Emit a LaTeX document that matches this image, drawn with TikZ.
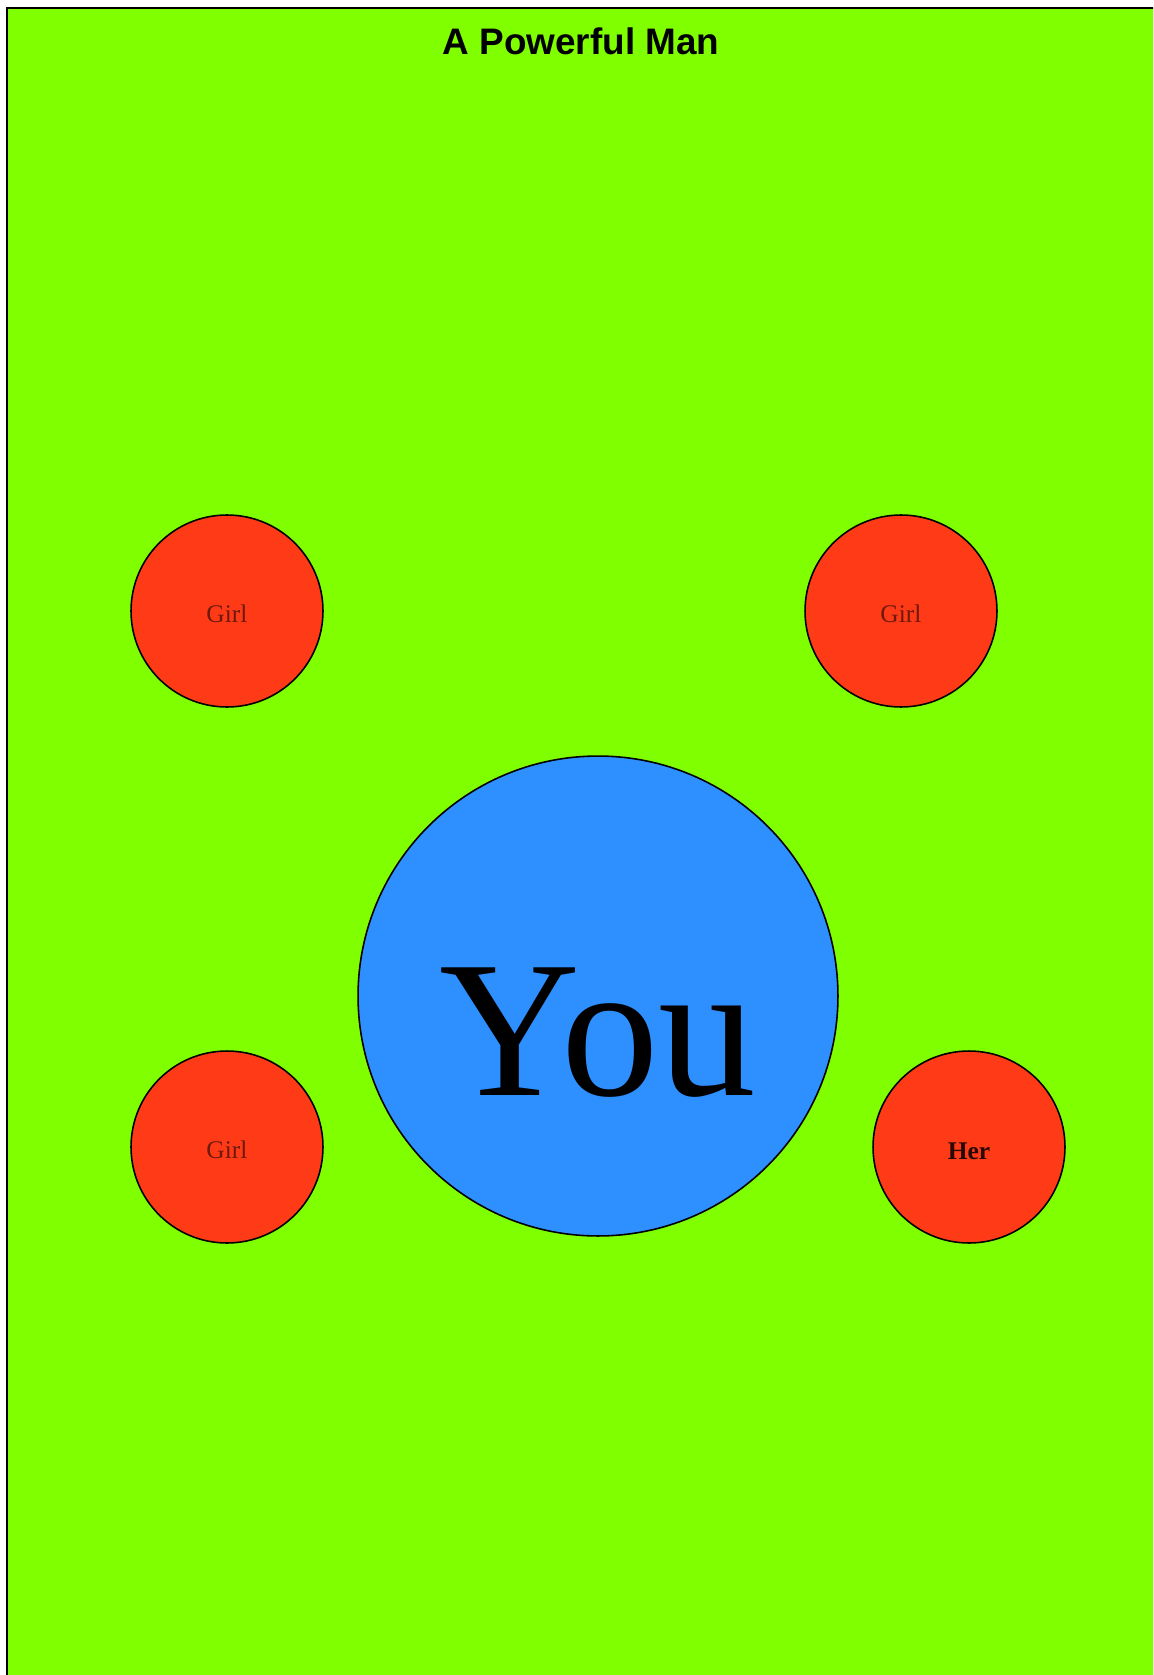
\documentclass[tikz,border=0pt]{standalone}
\usepackage{fontspec}
\setmainfont{Liberation Serif}
\newfontfamily\titlefont{Liberation Sans}

\definecolor{fieldgreen}{RGB}{128,255,0}
\definecolor{girlred}{RGB}{255,59,23}
\definecolor{youblue}{RGB}{46,143,255}
\definecolor{girltext}{RGB}{110,24,14}
\definecolor{hertext}{RGB}{40,8,4}

\tikzset{
    person/.style={circle, draw=black, line width=0.9pt, fill=girlred, minimum size=3.84cm, inner sep=0pt},
    girllabel/.style={font=\fontsize{14.5}{16}\selectfont, text=girltext},
}

\begin{document}
\begin{tikzpicture}[x=0.02cm, y=-0.02cm, every node/.style={inner sep=0pt}]

% =============================================
% Lienzo: fondo blanco y campo verde
% =============================================
\useasboundingbox (0,0) rectangle (1153,1675);
\fill[white] (0,0) rectangle (1153,1675);
\begin{scope}
    \clip (0,0) rectangle (1153,1675);
    \filldraw[fill=fieldgreen, draw=black, line width=1.4pt] (7,8) rectangle (1170,1690);
\end{scope}

% Titulo
\node[anchor=base, font=\titlefont\bfseries\fontsize{21}{25}\selectfont] (title) at (581,55) {A Powerful Man};

% =============================================
% Las chicas alrededor
% =============================================
\node[person] (girlNW) at (227,611) {};
\node[girllabel] (girlNWtxt) at ([yshift=-0.06cm]girlNW.center) {Girl};

\node[person] (girlNE) at (901,611) {};
\node[girllabel] (girlNEtxt) at ([yshift=-0.06cm]girlNE.center) {Girl};

\node[person] (girlSW) at (227,1147) {};
\node[girllabel] (girlSWtxt) at ([yshift=-0.06cm]girlSW.center) {Girl};

\node[person] (her) at (969,1147) {};
\node[font=\bfseries\fontsize{14.5}{16}\selectfont, text=hertext] (hertxt) at ([yshift=-0.08cm]her.center) {Her};

% =============================================
% Tu, en el centro
% =============================================
\node[person, fill=youblue, minimum size=9.6cm] (you) at (598,996) {};
\node[anchor=base, font=\fontsize{111}{115}\selectfont] (youtxt) at (598,1095) {You};

\end{tikzpicture}
\end{document}
